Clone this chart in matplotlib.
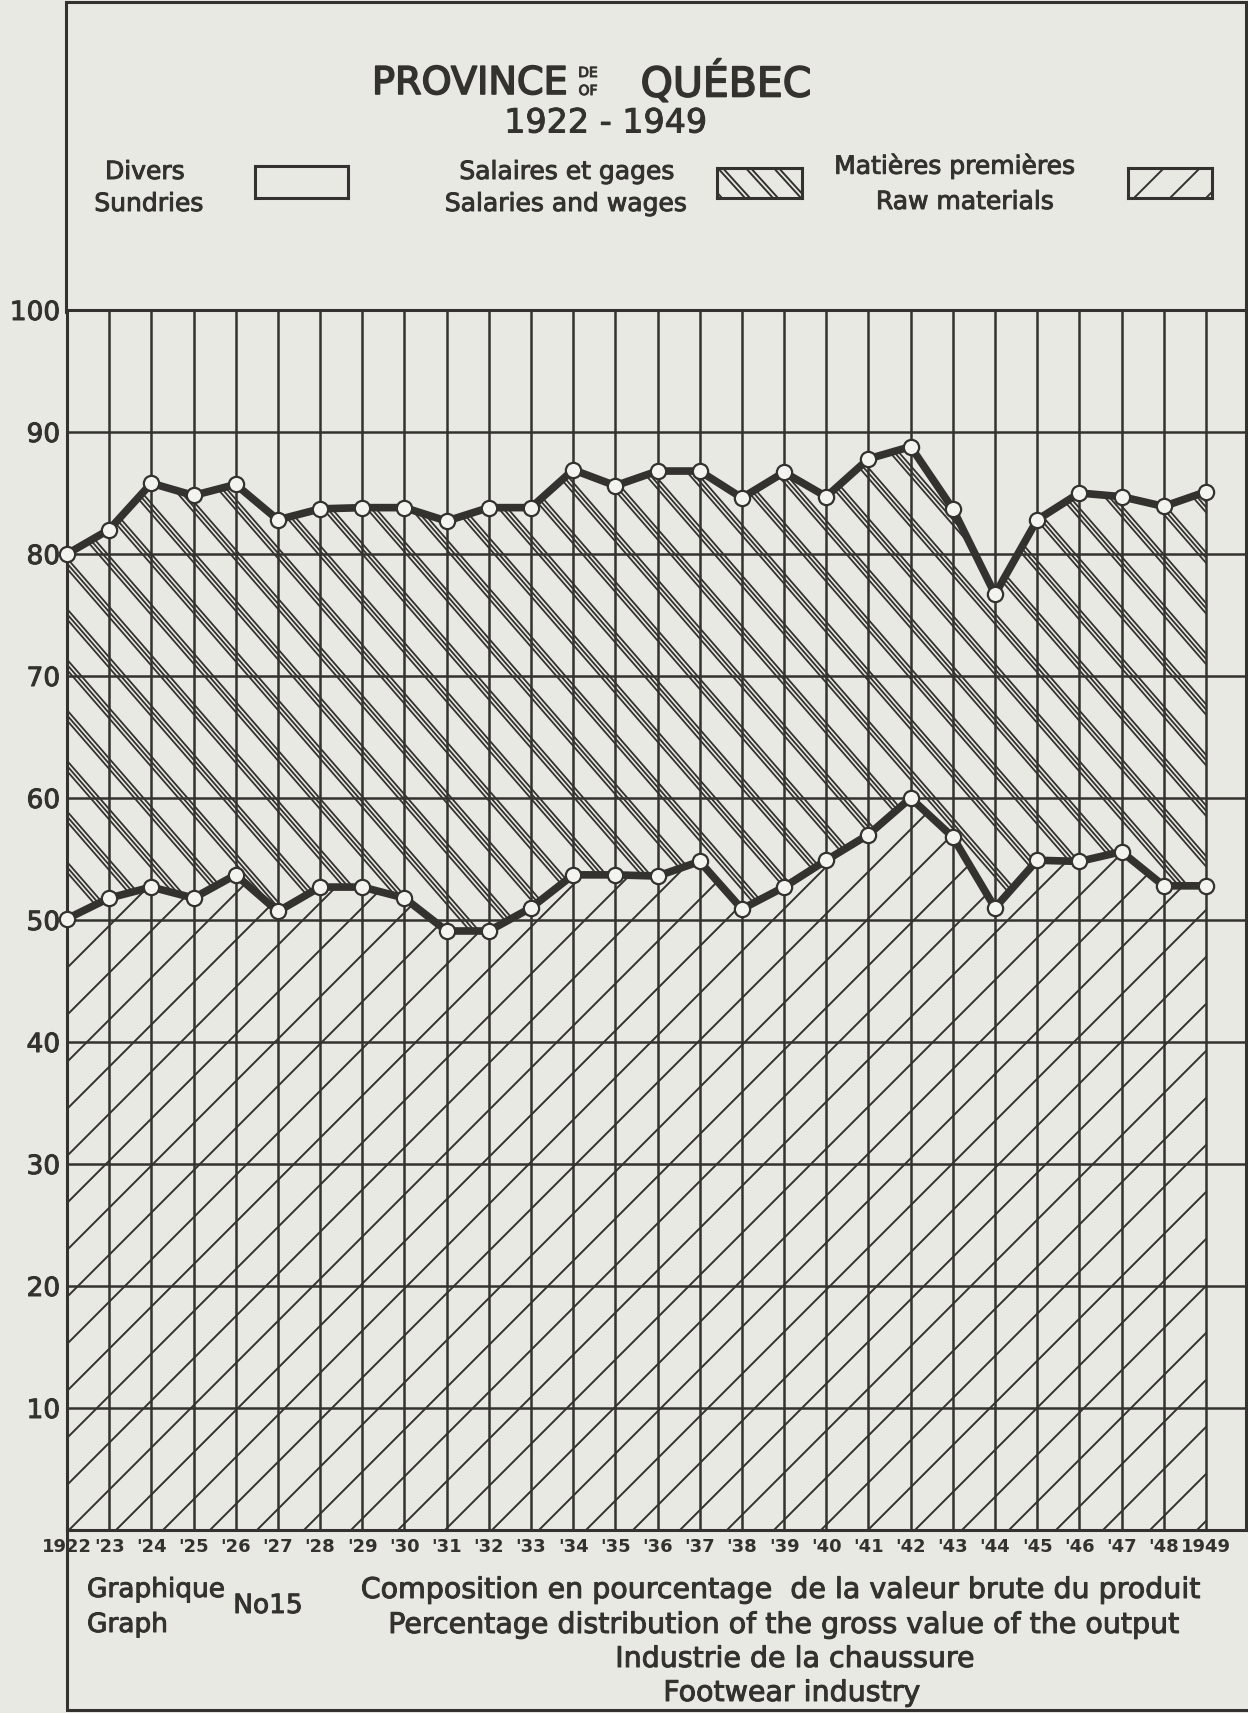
import numpy as np
import matplotlib
matplotlib.use('Agg')
import matplotlib.pyplot as plt
import matplotlib.patheffects as pe
from matplotlib.collections import LineCollection

# percentage distribution of the gross value of output, footwear industry, Quebec
years = list(range(1922, 1950))
raw_materials = [50.1, 51.8, 52.7, 51.8, 53.7, 50.7, 52.7, 52.7, 51.8, 49.1, 49.1, 51.0, 53.7, 53.7,
                 53.6, 54.8, 50.9, 52.7, 54.9, 57.0, 60.0, 56.8, 51.0, 54.9, 54.8, 55.6, 52.8, 52.8]
salaries_wages = [29.9, 30.2, 33.1, 33.0, 32.0, 32.1, 31.0, 31.1, 32.0, 33.6, 34.7, 32.8, 33.2, 31.9,
                  33.2, 32.0, 33.7, 34.0, 29.8, 30.8, 28.8, 26.9, 25.7, 27.9, 30.2, 29.1, 31.1, 32.3]
year_labels = ['1922'] + ["'%02d" % (y % 100) for y in years[1:-1]] + ['1949']
y_ticks = [10, 20, 30, 40, 50, 60, 70, 80, 90, 100]

INK = '#34322f'
PAPER = '#e9e9e4'
W, H = 1248, 1713
DPI = 100

plt.rcParams['font.family'] = ['DejaVu Sans']

# thicken the lettering a little, like the pen lettering of the original
INKED = [pe.withStroke(linewidth=0.7, foreground=INK)]
INKED_BIG = [pe.withStroke(linewidth=1.2, foreground=INK)]


def hatch(ax, slope, period, offsets, lw, clip=None):
    # diagonal hatch lines drawn in pixel space, so the angle is independent of the data scale
    x0, y0, x1, y1 = ax.bbox.extents
    run = (y1 - y0) / slope
    lo = min(x0, x0 - run) - period
    hi = max(x1, x1 - run) + period
    inv = ax.transData.inverted()
    segs = []
    for c in np.arange(lo, hi, period):
        for d in offsets:
            segs.append(inv.transform([[c + d, y0], [c + d + run, y1]]))
    lc = LineCollection(segs, colors=INK, linewidths=lw, zorder=2)
    ax.add_collection(lc, autolim=False)
    if clip is not None:
        lc.set_clip_path(clip.get_paths()[0], ax.transData)
    return lc


def label(x, y, s, size, ha='center', fx=INKED):
    bg.text(x, y, s, fontsize=size, color=INK, ha=ha, va='center', path_effects=fx)


fig = plt.figure(figsize=(W / DPI, H / DPI), dpi=DPI, facecolor=PAPER)

# background layer in pixel coordinates for frame and lettering
bg = fig.add_axes([0, 0, 1, 1], zorder=0)
bg.set_xlim(0, W)
bg.set_ylim(H, 0)
bg.axis('off')
bg.plot([66, 66, 1246, 1246], [312, 2, 2, 312], color=INK, lw=2.2, solid_joinstyle='miter')
bg.plot([67, 67, W], [1528, 1710, 1710], color=INK, lw=2.2, solid_joinstyle='miter')

label(470, 84, 'PROVINCE', 27.5, fx=INKED_BIG)
label(588, 73, 'DE', 10)
label(588, 91, 'OF', 10)
label(726, 84, 'QUÉBEC', 29.5, fx=INKED_BIG)
label(606, 123, '1922 - 1949', 24)

label(145, 172, 'Divers', 18)
label(149, 204, 'Sundries', 18)
label(567, 172, 'Salaires et gages', 18)
label(566, 204, 'Salaries and wages', 18)
label(955, 166, 'Matières premières', 18)
label(965, 202, 'Raw materials', 18)

label(87, 1590, 'Graphique', 19, ha='left')
label(87, 1625, 'Graph', 19, ha='left')
label(268, 1606, 'No15', 19)
label(781, 1590, 'Composition en pourcentage  de la valeur brute du produit', 20.5)
label(784, 1625, 'Percentage distribution of the gross value of the output', 20.5)
label(795, 1659, 'Industrie de la chaussure', 20.5)
label(792, 1693, 'Footwear industry', 20.5)

# main plot
ax = fig.add_axes([67 / W, (H - 1530) / H, (1246 - 67) / W, (1530 - 310) / H], zorder=1)
ax.set_facecolor('none')
ax.set_xlim(1922, 1949.95)
ax.set_ylim(0, 100)

raw = np.array(raw_materials)
top = raw + np.array(salaries_wages)

ax.set_xticks(years)
ax.set_xticklabels(year_labels, fontsize=13, fontweight='bold', color=INK)
ax.set_yticks(y_ticks)
ax.set_yticklabels([str(v) for v in y_ticks], fontsize=19, color=INK)
for t in ax.get_yticklabels():
    t.set_path_effects(INKED)
ax.tick_params(length=0)
ax.tick_params(axis='x', pad=6)
ax.tick_params(axis='y', pad=5)
ax.grid(True, color=INK, lw=1.8, zorder=1)
ax.set_axisbelow(True)
for s in ax.spines.values():
    s.set_color(INK)
    s.set_linewidth(2.2)

low_band = ax.fill_between(years, 0, raw, facecolor='none', edgecolor='none')
high_band = ax.fill_between(years, raw, top, facecolor='none', edgecolor='none')
hatch(ax, 1.0, 47, [0], 1.4, clip=low_band)
hatch(ax, -1.15, 44, [0, 4.5, 9], 1.3, clip=high_band)

for series in (raw, top):
    ax.plot(years, series, color=INK, lw=5.5, zorder=4, solid_joinstyle='round', clip_on=False,
            marker='o', markersize=11, markerfacecolor='#f3f3ef',
            markeredgecolor=INK, markeredgewidth=1.6)

# legend boxes
def legend_box(x, y, w, h):
    lax = fig.add_axes([x / W, 1 - (y + h) / H, w / W, h / H], zorder=2)
    lax.set_xlim(0, 1)
    lax.set_ylim(0, 1)
    lax.set_xticks([])
    lax.set_yticks([])
    lax.set_facecolor('none')
    for s in lax.spines.values():
        s.set_color(INK)
        s.set_linewidth(2.2)
    return lax

legend_box(255, 166, 93, 32)
wages_box = legend_box(717, 168, 85, 30)
hatch(wages_box, -1.1, 28, [0, 5], 1.4)
raw_box = legend_box(1128, 168, 84, 30)
hatch(raw_box, 1.0, 36, [0], 1.4)

fig.savefig('out.png', dpi=DPI, facecolor=PAPER)
